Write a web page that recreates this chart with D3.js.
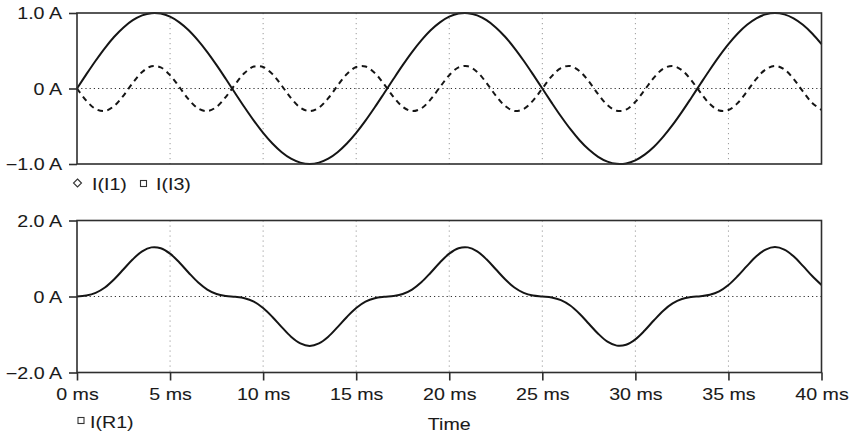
<!DOCTYPE html>
<html>
<head>
<meta charset="utf-8">
<script src="https://cdn.jsdelivr.net/npm/d3@7"></script>
<style>
  html, body { margin: 0; padding: 0; background: #fff; }
  svg { display: block; }
  text { font-family: "Liberation Sans", Arial, Helvetica, sans-serif; fill: #1a1a1a; }
</style>
</head>
<body>
<svg id="chart" width="856" height="436"></svg>
<script>
// ---- data (time in ms, currents in A) ----
const timeMs = [0,0.5,1,1.5,2,2.5,3,3.5,4,4.5,5,5.5,6,6.5,7,7.5,8,8.5,9,9.5,10,10.5,11,11.5,12,12.5,13,13.5,14,14.5,15,15.5,16,16.5,17,17.5,18,18.5,19,19.5,20,20.5,21,21.5,22,22.5,23,23.5,24,24.5,25,25.5,26,26.5,27,27.5,28,28.5,29,29.5,30,30.5,31,31.5,32,32.5,33,33.5,34,34.5,35,35.5,36,36.5,37,37.5,38,38.5,39,39.5,40];

const iI1 = [0,0.187,0.368,0.536,0.685,0.809,0.905,0.969,0.998,0.992,0.951,0.876,0.771,0.637,0.482,0.309,0.125,-0.063,-0.249,-0.426,-0.588,-0.729,-0.844,-0.930,-0.982,-1,-0.982,-0.930,-0.844,-0.729,-0.588,-0.426,-0.249,-0.063,0.125,0.309,0.482,0.637,0.771,0.876,0.951,0.992,0.998,0.969,0.905,0.809,0.685,0.536,0.368,0.187,0,-0.187,-0.368,-0.536,-0.685,-0.809,-0.905,-0.969,-0.998,-0.992,-0.951,-0.876,-0.771,-0.637,-0.482,-0.309,-0.125,0.063,0.249,0.426,0.588,0.729,0.844,0.930,0.982,1,0.982,0.930,0.844,0.729,0.588];

const iI3 = [0,-0.161,-0.271,-0.298,-0.231,-0.093,0.075,0.219,0.295,0.279,0.176,0.019,-0.145,-0.263,-0.299,-0.243,-0.110,0.056,0.205,0.291,0.285,0.191,0.038,-0.128,-0.253,-0.300,-0.253,-0.128,0.038,0.191,0.285,0.291,0.205,0.056,-0.110,-0.243,-0.299,-0.263,-0.145,0.019,0.176,0.279,0.295,0.219,0.075,-0.093,-0.231,-0.298,-0.271,-0.161,0,0.161,0.271,0.298,0.231,0.093,-0.075,-0.219,-0.295,-0.279,-0.176,-0.019,0.145,0.263,0.299,0.243,0.110,-0.056,-0.205,-0.291,-0.285,-0.191,-0.038,0.128,0.253,0.300,0.253,0.128,-0.038,-0.191,-0.285];

const iR1 = [0,0.026,0.097,0.238,0.454,0.716,0.980,1.188,1.293,1.271,1.127,0.895,0.626,0.374,0.183,0.066,0.015,-0.007,-0.044,-0.135,-0.303,-0.538,-0.806,-1.058,-1.235,-1.300,-1.235,-1.058,-0.806,-0.538,-0.303,-0.135,-0.044,-0.007,0.015,0.066,0.183,0.374,0.626,0.895,1.127,1.271,1.293,1.188,0.980,0.716,0.454,0.238,0.097,0.026,0,-0.026,-0.097,-0.238,-0.454,-0.716,-0.980,-1.188,-1.293,-1.271,-1.127,-0.895,-0.626,-0.374,-0.183,-0.066,-0.015,0.007,0.044,0.135,0.303,0.538,0.806,1.058,1.235,1.300,1.235,1.058,0.806,0.538,0.303];

const xTicks = [0,5,10,15,20,25,30,35,40];
const xTickLabels = ["0 ms","5 ms","10 ms","15 ms","20 ms","25 ms","30 ms","35 ms","40 ms"];
const yTopTicks = [-1,0,1];
const yTopLabels = ["\u22121.0 A","0 A","1.0 A"];
const yBotTicks = [-2,0,2];
const yBotLabels = ["\u22122.0 A","0 A","2.0 A"];
const xTitle = "Time";
const legendTop = ["I(I1)","I(I3)"];
const legendBottom = ["I(R1)"];

// ---- layout ----
const svg = d3.select("#chart");
const L = 77, R = 821.5;
const top1 = 13, bot1 = 164;
const top2 = 220.5, bot2 = 372.5;
const FS = 16.5, SX = 1.19, INK = "#151515", FRAME = "#2e2e2e";

const x = d3.scaleLinear().domain([0, 40]).range([L, R]);
const yTop = d3.scaleLinear().domain([-1, 1]).range([bot1, top1]);
const yBot = d3.scaleLinear().domain([-2, 2]).range([bot2, top2]);

function styleText(sel, dx, dy, anchor) {
  sel.attr("x", null).attr("y", null).attr("dy", null)
     .attr("transform", `translate(${dx},${dy}) scale(${SX},1)`)
     .attr("text-anchor", anchor)
     .style("font-size", FS + "px").attr("fill", "#1a1a1a")
     .attr("stroke", "#1a1a1a").attr("stroke-width", 0.08);
}

function panel(y, top, bot, yTicks, yLabels, series, showX) {
  const g = svg.append("g");
  // vertical dotted gridlines
  g.selectAll("line.vg").data(xTicks.slice(1, -1)).join("line")
    .attr("x1", d => x(d)).attr("x2", d => x(d))
    .attr("y1", top).attr("y2", bot)
    .attr("stroke", "#9a9a9a").attr("stroke-width", 1)
    .attr("stroke-dasharray", "1.2,3.8");
  // zero line
  g.append("line").attr("x1", L).attr("x2", R).attr("y1", y(0)).attr("y2", y(0))
    .attr("stroke", "#333").attr("stroke-width", 1.1).attr("stroke-dasharray", "1.2,3");
  // series
  series.forEach(s => {
    const line = d3.line().x((d, i) => x(timeMs[i])).y(d => y(d)).curve(d3.curveCatmullRom.alpha(0.5));
    g.append("path").datum(s.values).attr("d", line)
      .attr("fill", "none").attr("stroke", INK).attr("stroke-width", 2)
      .attr("stroke-linejoin", "round")
      .attr("stroke-dasharray", s.dash || null);
  });
  // frame
  g.append("rect").attr("x", L).attr("y", top).attr("width", R - L).attr("height", bot - top)
    .attr("fill", "none").attr("stroke", FRAME).attr("stroke-width", 1.6);
  // y axis
  const ya = g.append("g").attr("transform", `translate(${L},0)`)
    .call(d3.axisLeft(y).tickValues(yTicks).tickSize(8).tickFormat((d, i) => yLabels[i]));
  ya.select(".domain").remove();
  ya.selectAll(".tick line").attr("stroke", FRAME).attr("stroke-width", 1.6);
  styleText(ya.selectAll(".tick text"), -15, 5.8, "end");
  if (showX) {
    const xa = g.append("g").attr("transform", `translate(0,${bot})`)
      .call(d3.axisBottom(x).tickValues(xTicks).tickSize(8).tickFormat((d, i) => xTickLabels[i]));
    xa.select(".domain").remove();
    xa.selectAll(".tick line").attr("stroke", FRAME).attr("stroke-width", 1.6);
    styleText(xa.selectAll(".tick text"), 0, 27.5, "middle");
  }
}

panel(yTop, top1, bot1, yTopTicks, yTopLabels,
  [{ values: iI1 }, { values: iI3, dash: "5.5,4.5" }], false);
panel(yBot, top2, bot2, yBotTicks, yBotLabels, [{ values: iR1 }], true);

// x title
styleText(svg.append("text").text(xTitle), (L + R) / 2, 430, "middle");

// legends
function diamond(cx, cy, r) {
  svg.append("path").attr("d", `M${cx},${cy - r}L${cx + r},${cy}L${cx},${cy + r}L${cx - r},${cy}Z`)
    .attr("fill", "none").attr("stroke", "#333").attr("stroke-width", 1.1);
}
function square(cx, cy, s) {
  svg.append("rect").attr("x", cx - s / 2).attr("y", cy - s / 2).attr("width", s).attr("height", s)
    .attr("fill", "none").attr("stroke", "#333").attr("stroke-width", 1.1);
}
diamond(77.5, 183, 4);
styleText(svg.append("text").text(legendTop[0]), 92, 190, "start");
square(143.5, 183.5, 6);
styleText(svg.append("text").text(legendTop[1]), 156, 190, "start");
square(81, 420.5, 6);
styleText(svg.append("text").text(legendBottom[0]), 90, 428, "start");
</script>
</body>
</html>
